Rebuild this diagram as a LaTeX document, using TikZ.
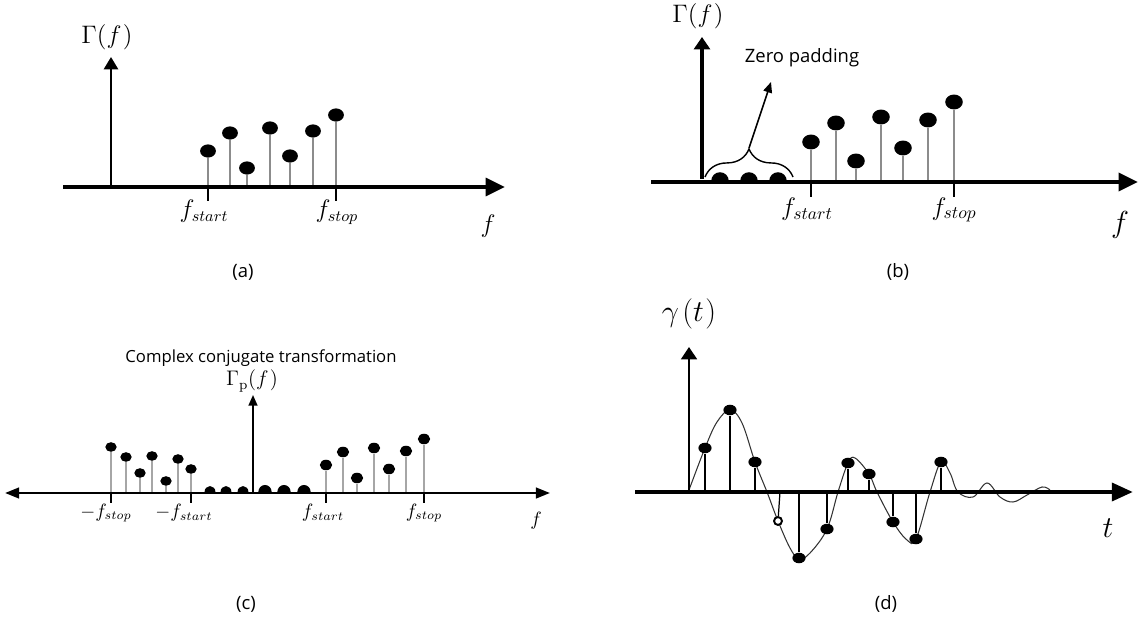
\documentclass[tikz,border=0pt]{standalone}
\usepackage{fontspec}
\newfontfamily\capfont{Open Sans}
\usetikzlibrary{arrows.meta,shapes.geometric,decorations.pathreplacing,positioning}

\tikzset{
  axis line/.style={line width=2.4pt, -{Triangle[length=11pt,width=10pt]}},
  both axis/.style={line width=1.4pt, {Triangle[length=8pt,width=6pt]}-{Triangle[length=8pt,width=6pt]}},
  up axis/.style={line width=1.4pt, -{Triangle[length=7pt,width=8pt]}},
  stem/.style={black!45, line width=0.9pt},
  tick mark/.style={line width=1.4pt},
  dot/.style={ellipse, fill, inner sep=0pt, minimum width=9pt, minimum height=7.5pt},
  sub label/.style={font=\capfont\fontsize{10.5}{12}\selectfont},
  note/.style={font=\capfont\fontsize{9.5}{11}\selectfont},
  big math/.style={font=\fontsize{15.5}{18}\selectfont},
  mid math/.style={font=\fontsize{13.5}{16}\selectfont},
}

\begin{document}
\begin{tikzpicture}[x=0.02cm, y=-0.02cm]
\useasboundingbox (0,0) rectangle (1139,621);

% (a) spectrum
\foreach \i/\x/\y in {1/208/151, 2/230/133, 3/247/168, 4/270/128, 5/290/156, 6/313/131, 7/336/115} {
  \node[dot] (a\i) at (\x,\y) {};
  \coordinate (a\i-foot) at (\x,187);
  \draw[stem] (a\i-foot) -- (a\i);
}
\coordinate (a-left) at (63,187);
\coordinate (a-right) at (505,187);
\draw[axis line] (a-left) -- (a-right);
\coordinate (a-origin) at (111,185);
\coordinate (a-top) at (111,57);
\draw[up axis] (a-origin) -- (a-top);
\node[big math] (a-gamma) at (107,37) {$\Gamma(f\mkern1mu)$};
\coordinate (a-tick1) at (208,201);
\coordinate (a-tick7) at (336,201);
\draw[tick mark] (a1-foot) -- (a-tick1);
\draw[tick mark] (a7-foot) -- (a-tick7);
\node[mid math] (a-start) at (204,211) {$f_{start}$};
\node[mid math] (a-stop) at (337,212) {$f_{stop}$};
\node[big math] (a-f) at (488,226) {$f$};
\node[sub label] (a-cap) at (243,272) {(a)};

% (b) zero padded spectrum
\foreach \i/\x/\y in {1/811/142, 2/836/123, 3/856/161, 4/881/117, 5/903/148, 6/928/120, 7/954/102} {
  \node[dot, minimum width=10pt, minimum height=8.5pt] (b\i) at (\x,\y) {};
  \coordinate (b\i-foot) at (\x,182);
  \draw[stem] (b\i-foot) -- (b\i);
}
\foreach \x in {720,749,778}
  \fill (\x,181) ++(-5pt,0) arc[start angle=180, end angle=0, radius=5pt];
\coordinate (b-left) at (651,182);
\coordinate (b-right) at (1138,182);
\draw[axis line, line width=2.6pt] (b-left) -- (b-right);
\coordinate (b-origin) at (702,179);
\coordinate (b-top) at (702,37);
\draw[up axis, line width=1.8pt, -{Triangle[length=7pt,width=9pt]}] (b-origin) -- (b-top);
\node[big math] (b-gamma) at (698,16) {$\Gamma(f\mkern1mu)$};
\coordinate (b-tick1) at (811,197);
\coordinate (b-tick7) at (954,197);
\draw[tick mark] (b1-foot) -- (b-tick1);
\draw[tick mark] (b7-foot) -- (b-tick7);
\node[mid math, font=\fontsize{14.5}{17}\selectfont] (b-start) at (807,209) {$f_{start}$};
\node[mid math, font=\fontsize{14.5}{17}\selectfont] (b-stop) at (954,210) {$f_{stop}$};
\node[big math, font=\fontsize{17}{20}\selectfont] (b-f) at (1120,225) {$f$};
\coordinate (brace-left) at (705,177);
\coordinate (brace-right) at (793,177);
\draw[decorate, decoration={brace, amplitude=16pt}, line width=0.8pt] (brace-left) -- (brace-right);
\coordinate (brace-tip) at (749,148);
\coordinate (pad-end) at (771,82);
\draw[line width=0.9pt, -{Triangle[length=6pt,width=5pt]}] (brace-tip) -- (pad-end);
\node[note, font=\capfont\fontsize{10.5}{12}\selectfont] (pad) at (802,58) {Zero padding};
\node[sub label] (b-cap) at (898,272) {(b)};

% (c) complex conjugate
\foreach \i/\x/\y in {1/111/447, 2/126/457, 3/140/473, 4/152/456, 5/166/481, 6/178/459, 7/191/469} {
  \node[dot, minimum width=6.5pt, minimum height=5.5pt] (cl\i) at (\x,\y) {};
  \coordinate (cl\i-foot) at (\x,493);
  \draw[stem, black!35, line width=0.7pt] (cl\i-foot) -- (cl\i);
}
\foreach \i/\x/\y in {1/326/465, 2/343/452, 3/357/478, 4/374/448, 5/389/469, 6/406/451, 7/424/439} {
  \node[dot, minimum width=7pt, minimum height=6pt] (cr\i) at (\x,\y) {};
  \coordinate (cr\i-foot) at (\x,493);
  \draw[stem, black!35, line width=0.7pt] (cr\i-foot) -- (cr\i);
}
\foreach \x in {210,226,243}
  \fill (\x,492) ++(-3.1pt,0) arc[start angle=180, end angle=0, x radius=3.1pt, y radius=3.4pt];
\foreach \x in {265,284,304}
  \fill (\x,492) ++(-3.8pt,0) arc[start angle=180, end angle=0, x radius=3.8pt, y radius=4pt];
\coordinate (c-left) at (5,493);
\coordinate (c-right) at (550,493);
\draw[both axis] (c-left) -- (c-right);
\coordinate (c-origin) at (253,492);
\coordinate (c-top) at (253,395);
\draw[up axis, line width=1pt, -{Triangle[length=6pt,width=5pt]}] (c-origin) -- (c-top);
\node[font=\fontsize{12}{14}\selectfont] (c-gamma) at (252,381) {$\Gamma_{\mathrm{p}}(f\mkern1mu)$};
\node[note] (conj) at (261,358) {Complex conjugate transformation};
\coordinate (c-tick1) at (111,503);
\coordinate (c-tick2) at (191,503);
\coordinate (c-tick3) at (326,503);
\coordinate (c-tick4) at (424,503);
\draw[tick mark, line width=1pt] (cl1-foot) -- (c-tick1);
\draw[tick mark, line width=1pt] (cl7-foot) -- (c-tick2);
\draw[tick mark, line width=1pt] (cr1-foot) -- (c-tick3);
\draw[tick mark, line width=1pt] (cr7-foot) -- (c-tick4);
\node[font=\fontsize{10.5}{12}\selectfont] (c-mstop) at (106,513) {$-f_{stop}$};
\node[font=\fontsize{10.5}{12}\selectfont] (c-mstart) at (184,513) {$-f_{start}$};
\node[font=\fontsize{10.5}{12}\selectfont] (c-start) at (323,513) {$f_{start}$};
\node[font=\fontsize{10.5}{12}\selectfont] (c-stop) at (424,513) {$f_{stop}$};
\node[font=\fontsize{11}{13}\selectfont] (c-f) at (536,521) {$f$};
\node[sub label] (c-cap) at (246,604) {(c)};

% (d) time signal
\draw[line width=0.6pt, black!80] plot[smooth, tension=0.6] coordinates {
  (689,490) (705,448) (717,422) (730,410) (742,423) (755,462) (767,492)
  (778,521) (790,548) (799,559) (810,553) (827,529) (838,492) (848,463)
  (855,458) (869,474) (877,492) (893,522) (907,540) (916,539) (930,492)
  (941,462) (950,473) (958,492) (973,497) (987,483) (1000,497) (1013,502)
  (1027,495) (1042,487) (1050,490)};
\foreach \i/\x/\y in {1/705/448, 2/730/410, 3/755/462, 5/799/558, 6/827/529, 7/848/463, 8/869/474, 9/893/522, 10/916/539, 11/941/462} {
  \node[dot, minimum width=7.5pt, minimum height=6pt] (d\i) at (\x,\y) {};
  \coordinate (d\i-foot) at (\x,492);
  \draw[line width=0.7pt] (d\i-foot) -- (d\i);
}
\node[circle, draw, fill=white, line width=1.1pt, inner sep=0pt, minimum size=4.5pt] (d4) at (778,521) {};
\coordinate (d4-foot) at (780,492);
\draw[line width=0.7pt] (d4-foot) -- (d4);
\coordinate (d-left) at (635,492);
\coordinate (d-right) at (1133,492);
\draw[axis line, line width=2.6pt, -{Triangle[length=12pt,width=10pt]}] (d-left) -- (d-right);
\coordinate (d-origin) at (689,490);
\coordinate (d-top) at (689,347);
\draw[up axis, line width=1.3pt, -{Triangle[length=7pt,width=9pt]}] (d-origin) -- (d-top);
\node[font=\fontsize{18}{21}\selectfont] (d-gamma) at (689,314) {$\gamma\mkern2mu(t\mkern1mu)$};
\node[font=\fontsize{17}{20}\selectfont] (d-t) at (1108,528) {$t$};
\node[sub label] (d-cap) at (886,604) {(d)};
\end{tikzpicture}
\end{document}
